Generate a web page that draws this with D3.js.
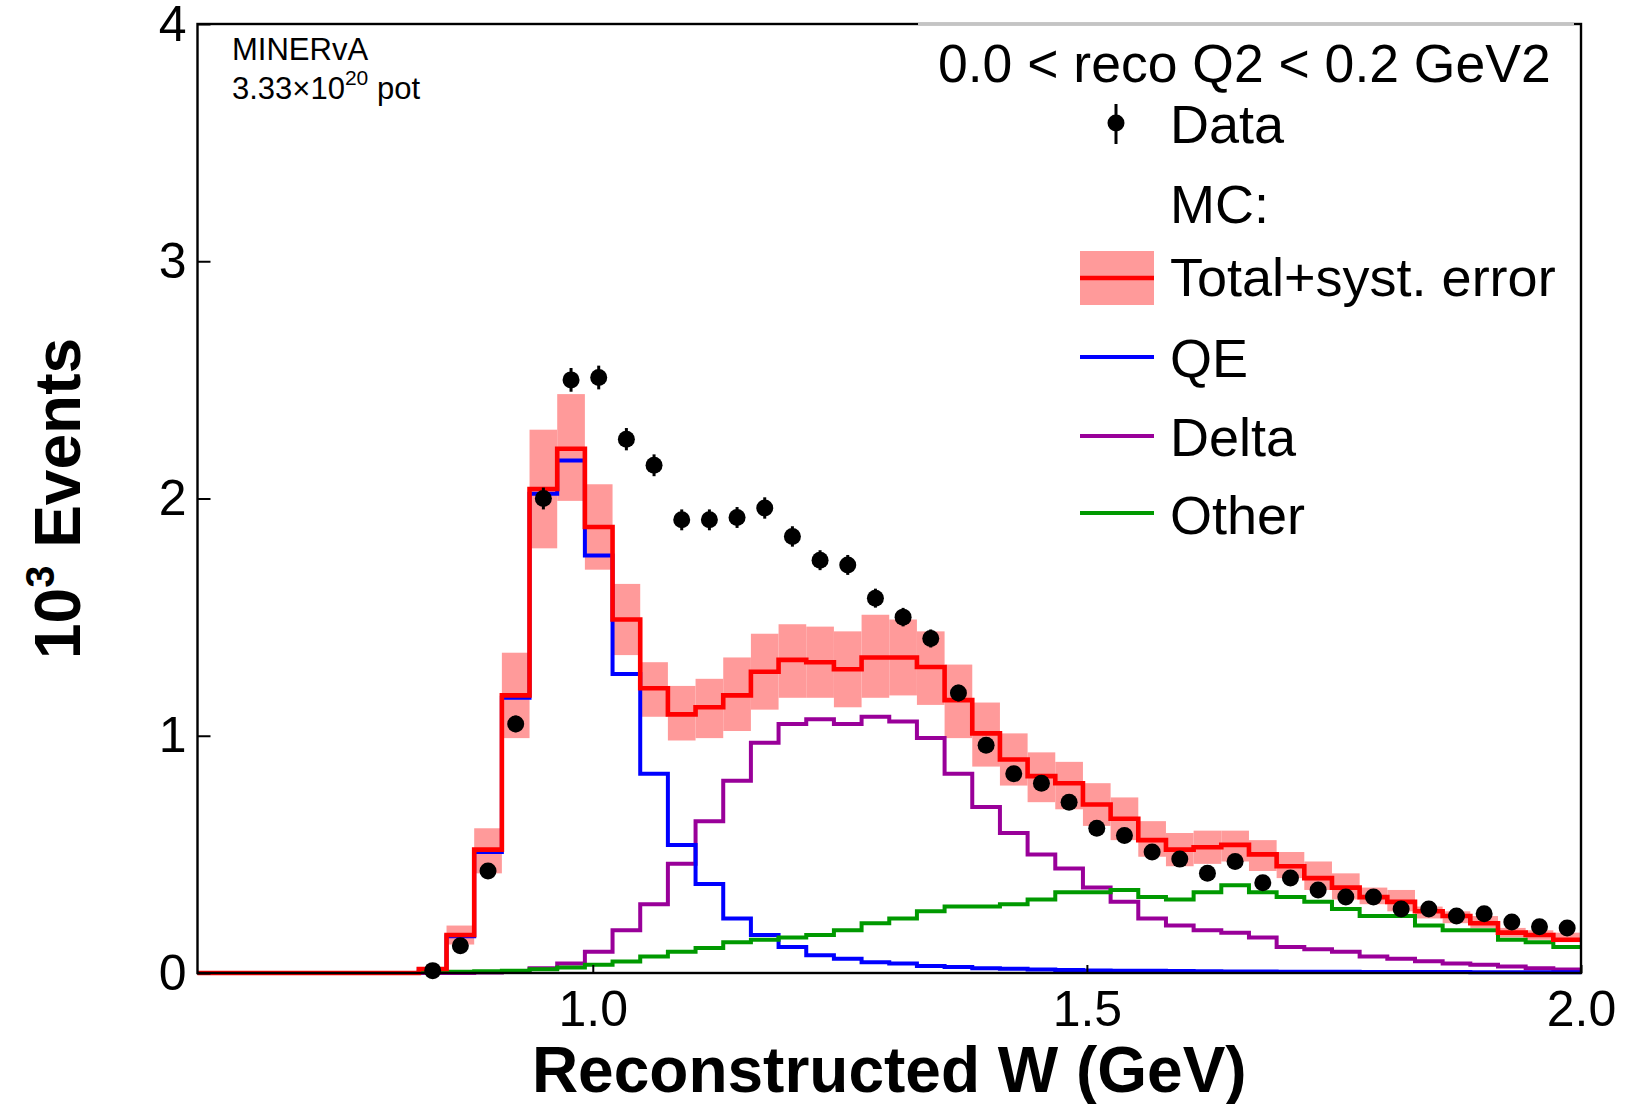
<!DOCTYPE html>
<html><head><meta charset="utf-8">
<script src="https://cdn.jsdelivr.net/npm/d3@7"></script>
<style>
body{margin:0;background:#fff}
svg{display:block;background:#fff}
text{font-family:"Liberation Sans",Arial,Helvetica,sans-serif}
</style>
</head><body>
<svg id="c" width="1626" height="1104"></svg>
<script>
// ---- data ----
const binEdges = [0.600,0.628,0.656,0.684,0.712,0.740,0.768,0.796,0.824,0.852,0.880,0.908,0.936,0.964,0.992,1.020,1.048,1.076,1.104,1.132,1.160,1.188,1.216,1.244,1.272,1.300,1.328,1.356,1.384,1.412,1.440,1.468,1.496,1.524,1.552,1.580,1.608,1.636,1.664,1.692,1.720,1.748,1.776,1.804,1.832,1.860,1.888,1.916,1.944,1.972,2.000];

const dataVals = [null,null,null,null,null,null,null,null,
  0.01,0.115,0.43,1.05,2.00,2.50,2.51,2.25,2.14,1.91,1.91,1.92,1.96,1.84,1.74,1.72,1.58,1.50,1.41,1.18,0.96,0.84,0.80,0.72,0.61,0.58,0.51,0.48,0.42,0.47,0.38,0.40,0.35,0.32,0.32,0.27,0.27,0.24,0.25,0.215,0.195,0.19];
const dataErr = [0,0,0,0,0,0,0,0,
  0.01,0.02,0.03,0.035,0.046,0.05,0.05,0.047,0.046,0.044,0.044,0.044,0.045,0.043,0.042,0.042,0.04,0.039,0.038,0.035,0.032,0.031,0.03,0.03,0.028,0.028,0.027,0.027,0.026,0.026,0.025,0.025,0.024,0.024,0.023,0.023,0.022,0.022,0.021,0.021,0.02,0.02];

const totalMC = [0,0,0,0,0,0,0,0,
  0.017,0.16,0.52,1.17,2.04,2.21,1.88,1.49,1.20,1.09,1.12,1.17,1.27,1.32,1.31,1.28,1.33,1.33,1.29,1.15,1.01,0.90,0.83,0.80,0.71,0.65,0.56,0.52,0.53,0.54,0.50,0.45,0.40,0.36,0.32,0.30,0.26,0.24,0.21,0.17,0.16,0.14];
const bandLow = [0,0,0,0,0,0,0,0,
  0.01,0.12,0.42,0.99,1.79,1.99,1.70,1.34,1.08,0.98,0.99,1.02,1.11,1.16,1.16,1.12,1.16,1.17,1.13,0.99,0.87,0.79,0.72,0.69,0.62,0.56,0.49,0.45,0.46,0.47,0.43,0.40,0.35,0.31,0.29,0.26,0.23,0.21,0.19,0.15,0.14,0.13];
const bandHigh = [0,0,0,0,0,0,0,0,
  0.025,0.20,0.61,1.35,2.29,2.44,2.06,1.64,1.31,1.21,1.24,1.33,1.43,1.47,1.46,1.44,1.51,1.49,1.44,1.30,1.14,1.01,0.93,0.89,0.80,0.74,0.64,0.59,0.60,0.60,0.56,0.51,0.47,0.42,0.36,0.35,0.28,0.26,0.24,0.19,0.18,0.17];

const qeVals = [0,0,0,0,0,0,0,0,
  0.017,0.155,0.51,1.16,2.02,2.16,1.76,1.26,0.84,0.54,0.375,0.23,0.16,0.11,0.075,0.06,0.045,0.04,0.03,0.025,0.02,0.018,0.015,0.013,0.011,0.01,0.009,0.008,0.007,0.006,0.006,0.005,0.005,0.005,0.004,0.004,0.004,0.004,0.003,0.003,0.003,0.003];
const deltaVals = [0,0,0,0,0,0,0,0,
  0,0,0.002,0.005,0.02,0.04,0.09,0.18,0.29,0.46,0.64,0.81,0.97,1.05,1.07,1.05,1.08,1.06,0.99,0.84,0.70,0.59,0.50,0.44,0.36,0.30,0.23,0.20,0.18,0.17,0.15,0.11,0.10,0.09,0.07,0.06,0.05,0.04,0.035,0.027,0.02,0.015];
const otherVals = [0,0,0,0,0,0,0,0,
  0.005,0.005,0.007,0.01,0.016,0.023,0.035,0.048,0.07,0.09,0.105,0.13,0.14,0.15,0.16,0.18,0.21,0.23,0.26,0.28,0.28,0.29,0.31,0.34,0.34,0.35,0.32,0.31,0.34,0.37,0.34,0.32,0.30,0.27,0.24,0.24,0.20,0.18,0.18,0.14,0.13,0.11];

const xTicks = [1.0, 1.5, 2.0];
const yTicks = [0, 1, 2, 3, 4];
const headerText = "0.0 < reco Q2 < 0.2 GeV2";
const legendLabels = ["Data", "MC:", "Total+syst. error", "QE", "Delta", "Other"];
const legendKinds  = ["data", "none", "band", "line", "line", "line"];
const legendColors = ["#000000", null, "#ff0000", "#0000ff", "#990099", "#009900"];

// ---- layout ----
const svg = d3.select("#c");
const L = 197.5, R = 1581, T = 24, B = 973;
const x = d3.scaleLinear().domain([0.6, 2.0]).range([L, R]);
const y = d3.scaleLinear().domain([0, 4]).range([B, T]);

// band
const nb = binEdges.length - 1;
const idx = d3.range(nb);
svg.append("g").selectAll("rect")
  .data(idx.filter(i => bandHigh[i] > bandLow[i]))
  .join("rect")
  .attr("x", i => x(binEdges[i]))
  .attr("width", i => x(binEdges[i+1]) - x(binEdges[i]))
  .attr("y", i => y(bandHigh[i]))
  .attr("height", i => y(bandLow[i]) - y(bandHigh[i]))
  .attr("fill", "#ff9a9a");

// step lines
const step = d3.line().x(d => x(d[0])).y(d => y(d[1])).curve(d3.curveStepAfter);
function stepPts(vals) {
  const pts = vals.map((v, i) => [binEdges[i], v]);
  pts.push([binEdges[nb], vals[nb-1]]);
  return pts;
}
const series = [
  {vals: deltaVals, color: "#990099", w: 4},
  {vals: qeVals, color: "#0000ff", w: 4},
  {vals: otherVals, color: "#009900", w: 4},
  {vals: totalMC, color: "#ff0000", w: 4.6}
];
series.forEach(s => {
  svg.append("path").attr("d", step(stepPts(s.vals)))
    .attr("fill", "none").attr("stroke", s.color).attr("stroke-width", s.w);
});

// axes
const xAxis = d3.axisBottom(x).tickValues(xTicks).tickFormat(d3.format(".1f"))
  .tickSize(-8).tickPadding(17);
const gx = svg.append("g").attr("transform", `translate(0,${B})`).call(xAxis);
gx.select(".domain").remove();
gx.selectAll("line").attr("stroke", "#000").attr("stroke-width", 2);
gx.selectAll("text").attr("font-size", 50).attr("fill", "#000")
  .style("font-family", '"Liberation Sans",Arial,sans-serif');

const yAxis = d3.axisLeft(y).tickValues(yTicks).tickFormat(d3.format("d"))
  .tickSize(-13).tickPadding(11);
const gy = svg.append("g").attr("transform", `translate(${L},0)`).call(yAxis);
gy.select(".domain").remove();
gy.selectAll("line").attr("stroke", "#000").attr("stroke-width", 2);
gy.selectAll("text").attr("font-size", 50).attr("fill", "#000")
  .style("font-family", '"Liberation Sans",Arial,sans-serif');

// frame
svg.append("rect").attr("x", L).attr("y", T).attr("width", R - L).attr("height", B - T)
  .attr("fill", "none").attr("stroke", "#000").attr("stroke-width", 2.4);
// legend box top edge (light gray over frame)
svg.append("line").attr("x1", 918).attr("x2", 1574).attr("y1", T).attr("y2", T)
  .attr("stroke", "#c4c4c4").attr("stroke-width", 3);

// data points
const dpts = idx.filter(i => dataVals[i] !== null);
const xc = i => x((binEdges[i] + binEdges[i+1]) / 2);
const gd = svg.append("g");
gd.selectAll("line").data(dpts).join("line")
  .attr("x1", xc).attr("x2", xc)
  .attr("y1", i => y(dataVals[i] + dataErr[i])).attr("y2", i => y(dataVals[i] - dataErr[i]))
  .attr("stroke", "#000").attr("stroke-width", 3);
gd.selectAll("circle").data(dpts).join("circle")
  .attr("cx", xc).attr("cy", i => y(dataVals[i])).attr("r", 8.5).attr("fill", "#000");

// axis titles
svg.append("text").attr("x", (L + R) / 2).attr("y", 1092).attr("text-anchor", "middle")
  .attr("font-size", 64).attr("font-weight", "bold").text("Reconstructed W (GeV)");
const yl = svg.append("text").attr("transform", `translate(80,${(T + B) / 2}) rotate(-90)`)
  .attr("text-anchor", "middle").attr("font-size", 64).attr("font-weight", "bold");
yl.append("tspan").text("10");
yl.append("tspan").attr("dy", -26).attr("font-size", 40).text("3");
yl.append("tspan").attr("dy", 26).text(" Events");

// MINERvA label
svg.append("text").attr("x", 232).attr("y", 60).attr("font-size", 31).text("MINERvA");
const pot = svg.append("text").attr("x", 232).attr("y", 99).attr("font-size", 31);
pot.append("tspan").text("3.33\u00d710");
pot.append("tspan").attr("dy", -14).attr("font-size", 21).text("20");
pot.append("tspan").attr("dy", 14).text(" pot");

// legend
svg.append("text").attr("x", 938).attr("y", 82).attr("font-size", 53.5).text(headerText);
const rowBase = [143, 223, 296, 377, 456, 534];
const rowMid  = [123, 204, 278, 357, 436, 513];
const lx0 = 1080, lx1 = 1154, tx = 1170;
legendLabels.forEach((lab, k) => {
  svg.append("text").attr("x", tx).attr("y", rowBase[k]).attr("font-size", 54).text(lab);
  const kind = legendKinds[k], c = legendColors[k];
  if (kind === "data") {
    const cx = (lx0 + lx1) / 2 - 1;
    svg.append("line").attr("x1", cx).attr("x2", cx).attr("y1", rowMid[k] - 19).attr("y2", rowMid[k] + 21)
      .attr("stroke", c).attr("stroke-width", 3);
    svg.append("circle").attr("cx", cx).attr("cy", rowMid[k]).attr("r", 8.5).attr("fill", c);
  } else if (kind === "band") {
    svg.append("rect").attr("x", lx0).attr("y", rowMid[k] - 27).attr("width", lx1 - lx0).attr("height", 54)
      .attr("fill", "#ff9a9a");
    svg.append("line").attr("x1", lx0).attr("x2", lx1).attr("y1", rowMid[k]).attr("y2", rowMid[k])
      .attr("stroke", c).attr("stroke-width", 4.6);
  } else if (kind === "line") {
    svg.append("line").attr("x1", lx0).attr("x2", lx1).attr("y1", rowMid[k]).attr("y2", rowMid[k])
      .attr("stroke", c).attr("stroke-width", 4);
  }
});
</script>
</body></html>
